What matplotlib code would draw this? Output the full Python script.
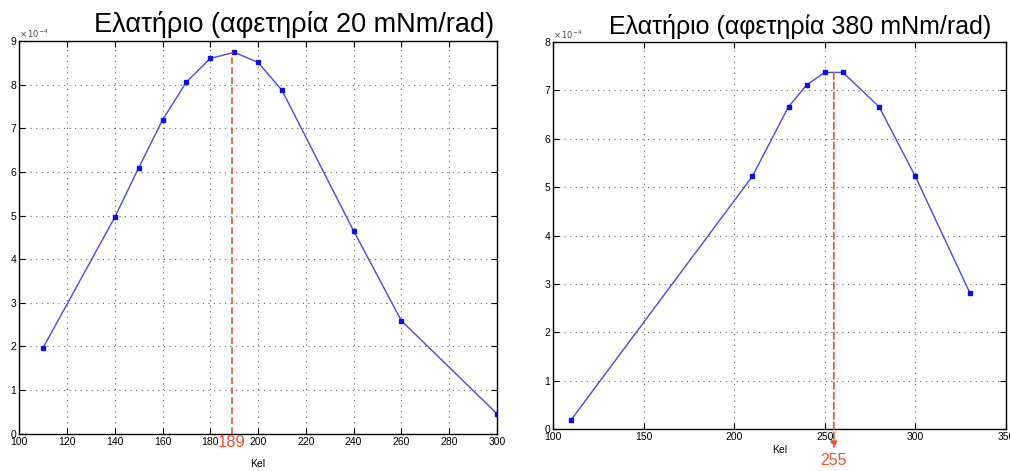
import matplotlib.pyplot as plt

# left panel: spring, start 20 mNm/rad
kel_a = [110, 140, 150, 160, 170, 180, 190, 200, 210, 240, 260, 300]
val_a = [1.97, 4.96, 6.09, 7.19, 8.06, 8.6, 8.74, 8.51, 7.87, 4.65, 2.59, 0.46]
peak_a = 189

# right panel: spring, start 380 mNm/rad
kel_b = [110, 210, 230, 240, 250, 260, 280, 300, 330]
val_b = [0.19, 5.22, 6.66, 7.11, 7.37, 7.37, 6.66, 5.22, 2.82]
peak_b = 255

titles = ['Ελατήριο (αφετηρία 20 mNm/rad)', 'Ελατήριο (αφετηρία 380 mNm/rad)']

plt.rcParams['font.family'] = ['Liberation Sans', 'DejaVu Sans']

LINE = '#4a4ad8'
MARK = '#1010e0'
RED = '#e8552a'


def draw_panel(ax, x, y, peak, xlim, xticks, ylim, title, title_x, title_size,
               arrow, xlabel_pad):
    ax.plot(x, y, color=LINE, lw=1.0, marker='s', ms=3, mfc=MARK, mec=MARK)
    ax.set_xlim(*xlim)
    ax.set_ylim(*ylim)
    ax.set_xticks(xticks)
    ax.set_yticks(range(ylim[0], ylim[1] + 1))
    ax.tick_params(direction='in', top=True, right=True, labelsize=7.5,
                   length=4, width=0.8, pad=2)
    ax.grid(True, linestyle=(0, (1, 4)), color='#666666', lw=0.8)
    for s in ax.spines.values():
        s.set_linewidth(1.0)
    ax.set_xlabel('Kel', fontsize=7.5, labelpad=xlabel_pad)
    ax.text(0.0, 1.003, r'$\times\,10^{-4}$', transform=ax.transAxes,
            fontsize=6, color='#444444', va='bottom', ha='left')
    ax.text(title_x, 1.008, title, transform=ax.transAxes, fontsize=title_size,
            ha='center', va='bottom')
    peak_y = max(y)
    if arrow:
        ax.annotate('', xy=(peak, -0.4), xytext=(peak, peak_y),
                    arrowprops=dict(arrowstyle='-|>', color=RED, lw=1.2,
                                    linestyle=(0, (4, 2)), shrinkA=0, shrinkB=0),
                    annotation_clip=False)
        ax.text(peak, -0.5, str(peak), color=RED, fontsize=11.5,
                ha='center', va='top', clip_on=False)
    else:
        ax.plot([peak, peak], [ylim[0], peak_y], color=RED, lw=1.2,
                linestyle=(0, (4, 2)))
        ax.text(peak, -0.03, str(peak), color=RED, fontsize=12,
                ha='center', va='top', clip_on=False)


fig = plt.figure(figsize=(10.1, 4.71), dpi=100)
ax1 = fig.add_axes([0.019, 0.079, 0.473, 0.834])
ax2 = fig.add_axes([0.5475, 0.089, 0.4485, 0.822])

draw_panel(ax1, kel_a, val_a, peak_a, (100, 300), range(100, 301, 20), (0, 9),
           titles[0], 0.575, 19.5, arrow=False, xlabel_pad=9)
draw_panel(ax2, kel_b, val_b, peak_b, (100, 350), range(100, 351, 50), (0, 8),
           titles[1], 0.545, 18, arrow=True, xlabel_pad=2)

fig.savefig('out.png', dpi=100)
